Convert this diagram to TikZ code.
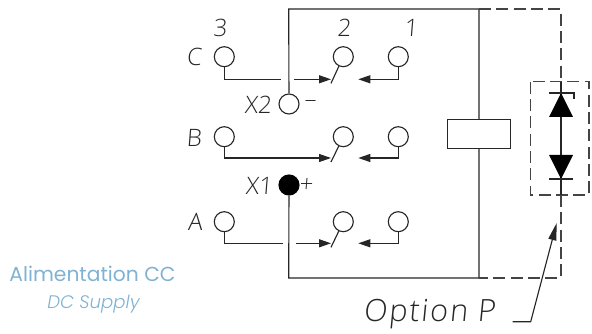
\documentclass[tikz,border=0pt]{standalone}
\usepackage{fontspec}
\usetikzlibrary{arrows.meta}
\setmainfont{Liberation Sans}
\newfontfamily\cadfont[FakeSlant=0.08]{Open Sans Light}
\newfontfamily\cadwide[FakeSlant=0.1,LetterSpace=6]{Open Sans Light}
\newfontfamily\brandfont{Poppins}
\newfontfamily\brandlight{Poppins Light}
\definecolor{brand}{HTML}{7FB2D3}
\definecolor{dashc}{HTML}{444444}
\tikzset{
  x=0.75pt,y=-0.75pt,
  wire/.style={line width=0.85pt,draw=black!85},
  dashwire/.style={line width=0.95pt,draw=dashc,dash pattern=on 9pt off 4pt},
  term/.style={circle,draw=black!85,line width=0.85pt,fill=white,inner sep=0pt,minimum size=15pt},
  termfill/.style={term,fill=black,draw=black},
  coil/.style={rectangle,draw=black!85,line width=0.85pt,fill=white,inner sep=0pt,minimum width=47.25pt,minimum height=21.75pt},
  tip/.style={-{Triangle[length=9pt,width=6pt]}},
  cad/.style={inner sep=0pt,font=\cadfont\fontsize{18}{18}\selectfont,text=black!85},
  dio/.style={fill=black,draw=none},
}
\begin{document}
\begin{tikzpicture}
\useasboundingbox (0,0) rectangle (592,334);
% main frame
\coordinate (tl) at (288.7,9);
\coordinate (tm) at (479,9);
\coordinate (tr) at (561,9);
\coordinate (bl) at (288.7,278);
\coordinate (bm) at (479,278);
\coordinate (br) at (561,278);
\node[coil] (K) at (479,134) {};
\node[term] (X2) at (289,104) {};
\node[termfill] (X1) at (289,185) {};
\draw[wire] (X2) -- (tl) -- (tm) -- (K);
\draw[wire] (X1) -- (bl) -- (bm) -- (K);
% rows of contacts
\foreach \r/\y/\l in {c/56.7/79.3,b/136.7/158,a/221.7/243.3}{
  \node[term] (\r3) at (224.3,\y) {};
  \node[term] (\r2) at (343.3,\y) {};
  \node[term] (\r1) at (398.3,\y) {};
  \coordinate (\r3c) at (224.3,\l);
  \coordinate (\r1c) at (398.3,\l);
  \coordinate (\r t) at (331,\l);
  \coordinate (\r rt) at (358.3,\l);
  \coordinate (\r e) at (331,\l+4);
  \draw[wire] (\r2) -- (\r e);
  \draw[wire,tip] (\r1) -- (\r1c) -- (\r rt);
}
\coordinate (cg1) at (281,79.3);
\coordinate (cg2) at (294.3,79.3);
\coordinate (ag1) at (283.3,243.3);
\coordinate (ag2) at (296,243.3);
\draw[wire] (c3) -- (c3c) -- (cg1);
\draw[wire,tip] (cg2) -- (ct);
\draw[wire,tip] (b3) -- (b3c) -- (bt);
\draw[wire] (a3) -- (a3c) -- (ag1);
\draw[wire,tip] (ag2) -- (at);
% option P box
\coordinate (bx1) at (530.7,81.7);
\coordinate (bx2) at (589,195);
\coordinate (dtop) at (561,81.7);
\coordinate (dbot) at (561,195);
\draw[dashwire] (tm) -- (tr) -- (dtop);
\draw[dashwire] (dbot) -- (br) -- (bm);
\draw[dashwire] (bx1) rectangle (bx2);
% diodes
\coordinate (a1) at (561,93);
\coordinate (a2) at (561,179);
\draw[wire] (dtop) -- (a1) -- (a2) -- (dbot);
\fill[dio] (a1) -- (573,117) -- (549,117) -- cycle;
\fill[dio] (a2) -- (573,155) -- (549,155) -- cycle;
\draw[wire] (549,93) -- (574,93) -- (574,99);
\draw[wire] (549,179) -- (573,179);
% pointer
\coordinate (p1) at (512.7,321.7);
\coordinate (p2) at (530.7,321.7);
\coordinate (p3) at (556.7,223);
\draw[wire,-{Triangle[length=13pt,width=6pt]}] (p1) -- (p2) -- (p3);
% labels
\node[cad] (n3) at (220,28) {3};
\node[cad] (n2) at (344,28) {2};
\node[cad] (n1) at (411,28) {1};
\node[cad] (lc) at (194,57) {C};
\node[cad] (lb) at (194,138) {B};
\node[cad] (la) at (195,222) {A};
\node[cad] (lx2) at (258,105) {X2};
\node[cad] (lx1) at (259,186) {X1};
\node[cad] (lm) at (310,104) {–};
\node[cad] (lp) at (306,185) {+};
\node[inner sep=0pt,anchor=west,font=\cadwide\fontsize{23}{23}\selectfont,text=black!85] (opt) at (363,314) {Option P};
\node[inner sep=0pt,font=\brandfont\fontsize{15.2}{15.2}\selectfont,text=brand] (al) at (92.5,274) {Alimentation CC};
\node[inner sep=0pt,font=\brandlight\itshape\fontsize{13.6}{13.6}\selectfont,text=brand] (dc) at (93.5,304) {DC Supply};
\end{tikzpicture}
\end{document}
